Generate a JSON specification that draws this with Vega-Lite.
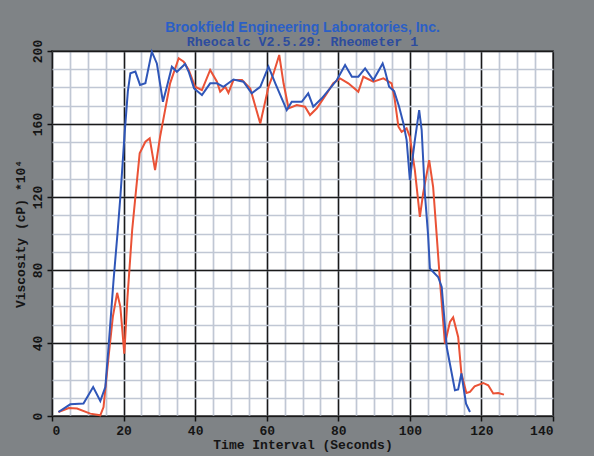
{
  "$schema": "https://vega.github.io/schema/vega-lite/v6.json",
  "autosize": "none",
  "width": 501,
  "height": 365,
  "padding": {"left": 52, "top": 51, "right": 41, "bottom": 40},
  "background": "#7f8386",
  "title": {
    "text": "Brookfield Engineering Laboratories, Inc.",
    "subtitle": "Rheocalc V2.5.29: Rheometer 1",
    "anchor": "middle",
    "frame": "group",
    "offset": -9,
    "font": "Liberation Sans Narrow, Liberation Sans, Arial",
    "fontSize": 14,
    "fontWeight": "bold",
    "color": "#2b5fc6",
    "subtitleFont": "Liberation Mono",
    "subtitleFontSize": 13.3,
    "subtitleFontWeight": "bold",
    "subtitleColor": "#2d4c9e",
    "subtitlePadding": 0
  },
  "config": {
    "view": {"stroke": "#111111", "strokeWidth": 1.5, "fill": "white"},
    "axis": {
      "labelFont": "Liberation Mono",
      "labelFontSize": 13,
      "labelFontWeight": "bold",
      "labelColor": "#151515",
      "titleFont": "Liberation Mono",
      "titleFontSize": 13,
      "titleFontWeight": "bold",
      "titleColor": "#151515"
    }
  },
  "datasets": {
    "red": [
      {"t":1.8,"v":2.2},{"t":4.7,"v":4.4},{"t":7,"v":4.1},{"t":10.7,"v":1.3},{"t":13.5,"v":0.4},{"t":14.4,"v":4.9},{"t":15.8,"v":32.4},{"t":17,"v":54.3},{"t":18.2,"v":67.5},{"t":19.1,"v":59.8},{"t":20.2,"v":34.2},{"t":21.1,"v":65.3},{"t":22.4,"v":101.8},{"t":23.3,"v":120.1},{"t":24.5,"v":143.9},{"t":26.1,"v":150.3},{"t":27.3,"v":152.1},{"t":28.8,"v":134.7},{"t":30.2,"v":153},{"t":31.6,"v":167.6},{"t":33,"v":182.3},{"t":35.4,"v":196},{"t":36.8,"v":194.1},{"t":38.2,"v":189.6},{"t":40,"v":180.4},{"t":41.9,"v":178.6},{"t":44.2,"v":189.6},{"t":46.1,"v":183.2},{"t":47,"v":177.7},{"t":48.4,"v":180.4},{"t":49.3,"v":177.1},{"t":50.7,"v":184.1},{"t":53.1,"v":184.1},{"t":55.4,"v":179.5},{"t":58.2,"v":160.3},{"t":60.5,"v":180.4},{"t":61.9,"v":187.7},{"t":63.5,"v":197.8},{"t":64.7,"v":182.3},{"t":66.1,"v":168.6},{"t":68.4,"v":170.4},{"t":70.7,"v":169.5},{"t":72.1,"v":164.9},{"t":74,"v":168.6},{"t":76.8,"v":176.8},{"t":78.6,"v":182.3},{"t":80.5,"v":185},{"t":82.8,"v":182.3},{"t":85.6,"v":177.7},{"t":87,"v":185.9},{"t":89.8,"v":183.2},{"t":92.6,"v":185},{"t":94.9,"v":182.3},{"t":95.8,"v":173.1},{"t":96.8,"v":158.5},{"t":97.7,"v":155.7},{"t":99.1,"v":157.6},{"t":100,"v":153},{"t":101.4,"v":134.7},{"t":102.8,"v":109.1},{"t":103.7,"v":121.9},{"t":105.4,"v":140.2},{"t":106.5,"v":125.6},{"t":107.5,"v":99},{"t":108.4,"v":74.4},{"t":109.8,"v":39.7},{"t":111.2,"v":51.5},{"t":112.1,"v":54},{"t":113.5,"v":43.3},{"t":114.4,"v":23.3},{"t":115.8,"v":12.6},{"t":116.8,"v":13.2},{"t":118.1,"v":16.3},{"t":120.5,"v":18.1},{"t":121.9,"v":16.8},{"t":123.3,"v":12.3},{"t":124.7,"v":12.6},{"t":126.3,"v":11.7}
    ],
    "blue": [
      {"t":1.8,"v":2.2},{"t":5.1,"v":6.4},{"t":8.8,"v":6.8},{"t":11.5,"v":15.9},{"t":13.5,"v":8.2},{"t":14.9,"v":15.9},{"t":15.8,"v":37.8},{"t":17.2,"v":74.4},{"t":18.3,"v":100},{"t":19.1,"v":120},{"t":20.3,"v":155},{"t":21.2,"v":178},{"t":21.9,"v":187.8},{"t":23.3,"v":188.7},{"t":24.6,"v":181.4},{"t":26.1,"v":182.3},{"t":27.9,"v":199.6},{"t":29.3,"v":193.2},{"t":31,"v":172.2},{"t":32.1,"v":180.4},{"t":33.5,"v":191.4},{"t":34.9,"v":188.6},{"t":37.2,"v":192.9},{"t":38.2,"v":188.6},{"t":39.7,"v":179.5},{"t":41.9,"v":175.9},{"t":44.2,"v":182.3},{"t":46.1,"v":182.3},{"t":47.9,"v":180.4},{"t":50.7,"v":184.4},{"t":53.5,"v":183.2},{"t":55.8,"v":176.8},{"t":58.2,"v":180.4},{"t":60.5,"v":191.4},{"t":62.4,"v":182.3},{"t":65.6,"v":167.6},{"t":67,"v":172.2},{"t":69.8,"v":172.2},{"t":71.6,"v":176.8},{"t":73,"v":169.5},{"t":75.4,"v":174.1},{"t":77.7,"v":179.5},{"t":79.6,"v":184.1},{"t":81.9,"v":192.3},{"t":83.8,"v":185.9},{"t":85.6,"v":185.9},{"t":87.5,"v":190.5},{"t":89.8,"v":184.1},{"t":92.4,"v":193.2},{"t":93,"v":189.6},{"t":94.2,"v":180.4},{"t":95.6,"v":178},{"t":97,"v":169.5},{"t":98.2,"v":160.3},{"t":99.1,"v":151.2},{"t":100,"v":129.3},{"t":101.4,"v":151.2},{"t":102.6,"v":167.6},{"t":103.3,"v":156.7},{"t":104.2,"v":121.9},{"t":105.1,"v":99},{"t":105.6,"v":80.8},{"t":107.9,"v":76.2},{"t":108.9,"v":70.7},{"t":110.3,"v":37.8},{"t":112.6,"v":14.1},{"t":113.5,"v":14.5},{"t":114.4,"v":23.3},{"t":115.7,"v":6.8},{"t":116.8,"v":2.2}
    ]
  },
  "layer": [
    {
      "data": {"name": "red"},
      "mark": {"type": "line", "color": "#ea5236", "strokeWidth": 2},
      "encoding": {
        "x": {"field": "t", "type": "quantitative", "scale": {"domain": [0, 140], "nice": false},
          "axis": {"orient": "bottom", "values": [0,5,10,15,20,25,30,35,40,45,50,55,60,65,70,75,80,85,90,95,100,105,110,115,120,125,130,135,140],
            "grid": true, "gridColor": "#c0c7d4", "gridWidth": 1.7, "labels": false, "ticks": false, "domain": false, "title": null}},
        "y": {"field": "v", "type": "quantitative", "scale": {"domain": [0, 200], "nice": false},
          "axis": {"orient": "left", "values": [0,10,20,30,40,50,60,70,80,90,100,110,120,130,140,150,160,170,180,190,200],
            "grid": true, "gridColor": "#c0c7d4", "gridWidth": 1.7, "labels": false, "ticks": false, "domain": false, "title": null}}
      }
    },
    {
      "data": {"name": "blue"},
      "mark": {"type": "line", "color": "#2f56b8", "strokeWidth": 2},
      "encoding": {
        "x": {"field": "t", "type": "quantitative", "scale": {"domain": [0, 140], "nice": false},
          "axis": {"orient": "bottom", "values": [0,20,40,60,80,100,120,140], "grid": true, "gridColor": "#1a1a1a", "gridWidth": 1.5,
            "domain": false, "tickColor": "#111111", "tickSize": 5, "tickWidth": 1.5, "labelPadding": 3,
            "title": "Time Interval (Seconds)", "titlePadding": 1}},
        "y": {"field": "v", "type": "quantitative", "scale": {"domain": [0, 200], "nice": false},
          "axis": {"orient": "left", "values": [0,40,80,120,160,200], "grid": true, "gridColor": "#1a1a1a", "gridWidth": 1.5,
            "domain": false, "tickColor": "#111111", "tickSize": 5, "tickWidth": 1.5, "labelAngle": 270, "labelPadding": 3,
            "title": "Viscosity (cP) *10⁴", "titlePadding": 4}}
      }
    }
  ],
  "resolve": {"axis": {"x": "independent", "y": "independent"}}
}
